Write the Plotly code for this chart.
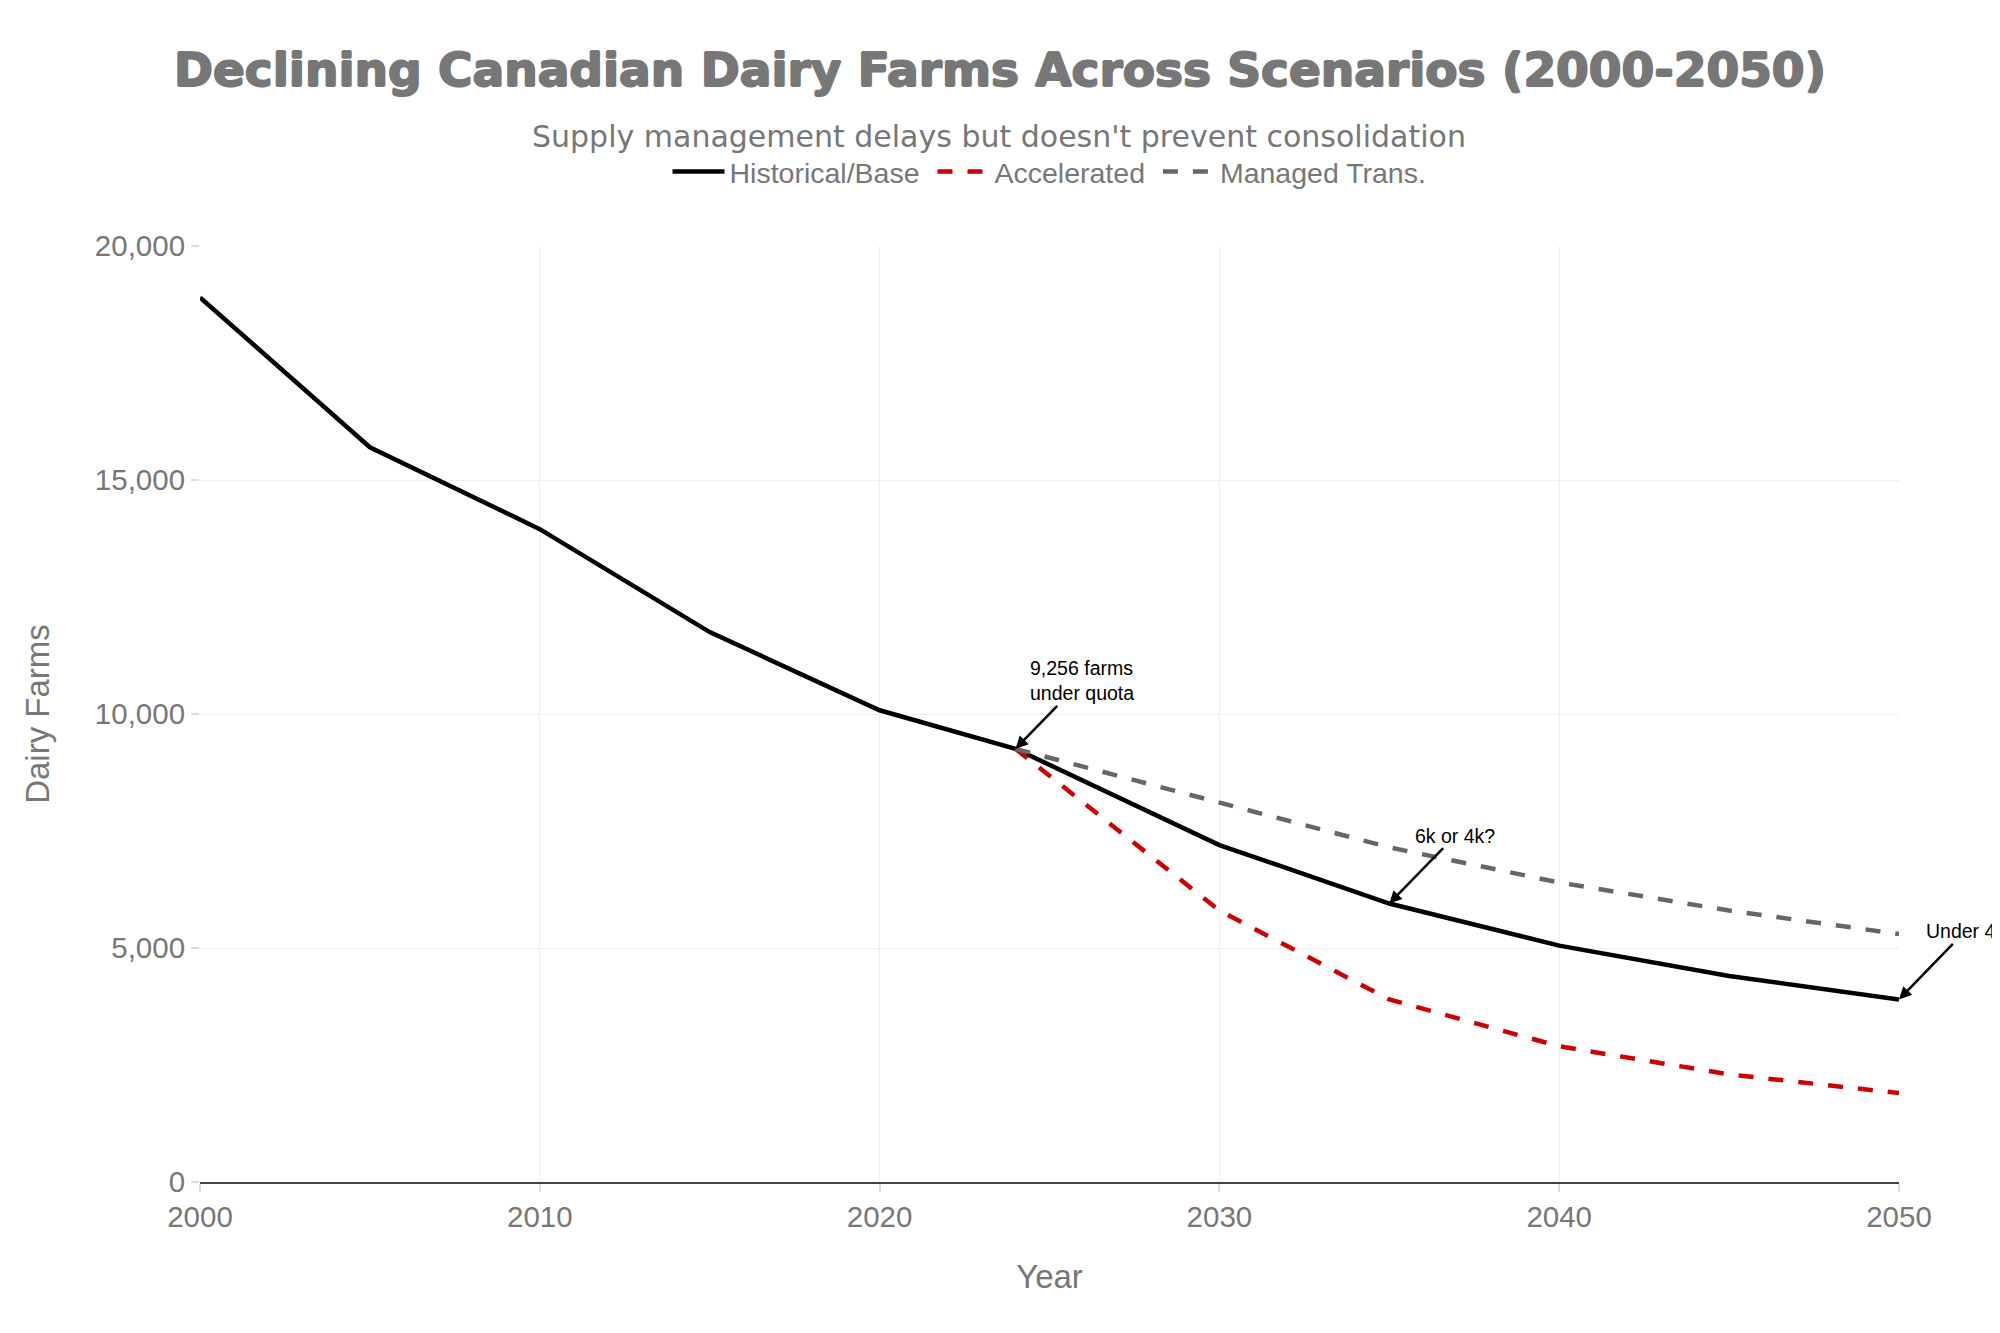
import plotly.graph_objects as go

# Data
hist_years = [2000, 2005, 2010, 2015, 2020, 2024, 2030, 2035, 2040, 2045, 2050]
hist_farms = [18900, 15700, 13950, 11750, 10080, 9256, 7200, 5950, 5050, 4400, 3900]

acc_years = [2024, 2030, 2035, 2040, 2045, 2050]
acc_farms = [9256, 5800, 3900, 2900, 2300, 1900]

man_years = [2024, 2030, 2035, 2040, 2045, 2050]
man_farms = [9256, 8100, 7150, 6400, 5800, 5300]

series_names = ["Historical/Base", "Accelerated", "Managed Trans."]

ann_x = [2024, 2035, 2050]
ann_y = [9256, 5950, 3900]
ann_text = ["9,256 farms<br>under quota", "6k or 4k?", "Under 4k"]

title_text = "Declining Canadian Dairy Farms Across Scenarios (2000-2050)"
subtitle_text = "Supply management delays but doesn't prevent consolidation"

FONT = "Liberation Sans"
GREY = "#777777"
NBSP = "\u00a0"

fig = go.Figure()
fig.add_trace(go.Scatter(x=hist_years, y=hist_farms, mode="lines", name=series_names[0] + NBSP,
                         line=dict(color="#000000", width=4.5)))
fig.add_trace(go.Scatter(x=acc_years, y=acc_farms, mode="lines", name=series_names[1] + NBSP,
                         line=dict(color="#cc0000", width=4.5, dash="15px,15px")))
fig.add_trace(go.Scatter(x=man_years, y=man_farms, mode="lines", name=series_names[2],
                         line=dict(color="#666666", width=4.5, dash="15px,15px")))

for x, y, t in zip(ann_x, ann_y, ann_text):
    fig.add_annotation(x=x, y=y, text=t, showarrow=True, arrowhead=2, arrowsize=1,
                       arrowwidth=2.5, arrowcolor="#000000", ax=66, ay=-68, align="left",
                       font=dict(family=FONT, size=19.5, color="#000000"))

fig.add_annotation(xref="paper", yref="paper", x=0.4705, y=1, xanchor="center", yanchor="middle",
                   yshift=110, showarrow=False, text=subtitle_text,
                   font=dict(family="DejaVu Sans", size=30, color=GREY))

title_shadow = ("1px 0 0 #777777, -1px 0 0 #777777, 0 1px 0 #777777, 0 -1px 0 #777777")

fig.update_layout(
    paper_bgcolor="white", plot_bgcolor="white",
    margin=dict(l=192, r=93, t=238, b=143),
    title=dict(text="<b>" + title_text + "</b>", x=0.5, xanchor="center",
               y=0.953, yanchor="middle",
               font=dict(family="DejaVu Sans", size=47, color=GREY, shadow=title_shadow)),
    legend=dict(orientation="h", x=0.5, xanchor="center", y=1.079, yanchor="middle",
                font=dict(family=FONT, size=28.5, color=GREY), itemwidth=52),
    showlegend=True,
    xaxis=dict(range=[2000, 2050], dtick=10, tick0=2000, showgrid=True, gridcolor="#efefef",
               gridwidth=1.2,
               showline=True, linecolor="#444444", linewidth=1.7, zeroline=False,
               ticks="outside", ticklen=8, tickcolor="#dddddd", tickwidth=1.5,
               tickfont=dict(family=FONT, size=29.5, color=GREY),
               title=dict(text="Year", font=dict(family=FONT, size=33, color=GREY), standoff=33)),
    yaxis=dict(range=[0, 20000], dtick=5000, tickformat=",", showgrid=True, gridcolor="#efefef",
               gridwidth=1.2,
               zeroline=False, showline=False,
               ticks="outside", ticklen=8, tickcolor="#dddddd", tickwidth=1.5,
               tickfont=dict(family=FONT, size=29.5, color=GREY),
               title=dict(text="Dairy Farms", font=dict(family=FONT, size=33, color=GREY), standoff=35)),
)

fig.write_html("out.html")
